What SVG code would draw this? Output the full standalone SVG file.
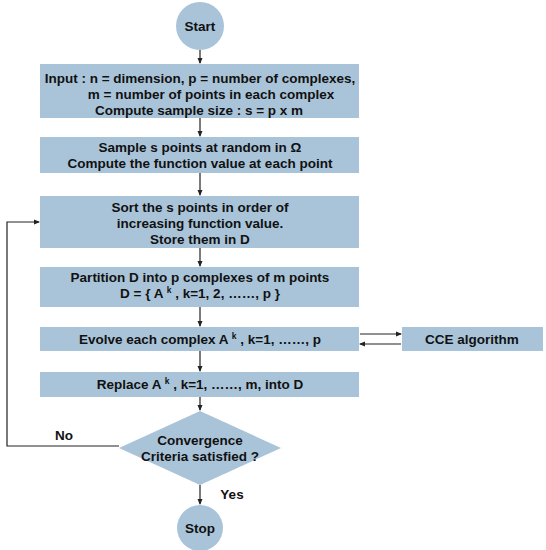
<svg xmlns="http://www.w3.org/2000/svg" width="546" height="550" viewBox="0 0 546 550">
<style>
.n{fill:#a9c4d9;stroke:none}
.t{font-family:"Liberation Sans",Arial,sans-serif;font-weight:bold;font-size:13.5px;fill:#111;text-anchor:middle}
.c{stroke:#222;stroke-width:1.2;fill:none}
.a{marker-end:url(#ah)}
.sup{font-size:8.5px}
</style>
<defs>
<marker id="ah" markerWidth="6" markerHeight="6" refX="5" refY="3" orient="auto" markerUnits="userSpaceOnUse">
<path d="M0,0.5 L6,3 L0,5.5 z" fill="#222"/>
</marker>
</defs>
<rect width="546" height="550" fill="#fff"/>
<g id="start"><circle class="n" cx="200" cy="26" r="24"/><text class="t" x="200" y="31">Start</text></g>
<g id="input"><rect class="n" x="40" y="64" width="319" height="54"/>
<text class="t" x="200" y="83">Input : n = dimension, p = number of complexes,</text>
<text class="t" x="211" y="99">m = number of points in each complex</text>
<text class="t" x="199" y="115">Compute sample size : s = p x m</text></g>
<g id="sample"><rect class="n" x="40" y="137" width="319" height="36"/>
<text class="t" x="200" y="152">Sample s points at random in Ω</text>
<text class="t" x="200" y="168">Compute the function value at each point</text></g>
<g id="sort"><rect class="n" x="40" y="196" width="319" height="52"/>
<text class="t" x="200" y="212">Sort the s points in order of</text>
<text class="t" x="200" y="228">increasing function value.</text>
<text class="t" x="200" y="244">Store them in D</text></g>
<g id="partition"><rect class="n" x="40" y="267" width="319" height="40"/>
<text class="t" x="200" y="282">Partition D into p complexes of m points</text>
<text class="t" x="200" y="298">D = { A <tspan class="sup" dy="-5">k</tspan><tspan dy="5"> , k=1, 2, ……, p }</tspan></text></g>
<g id="evolve"><rect class="n" x="40" y="327" width="319" height="24"/>
<text class="t" x="200" y="344">Evolve each complex A <tspan class="sup" dy="-5">k</tspan><tspan dy="5"> , k=1, ……, p</tspan></text></g>
<g id="cce"><rect class="n" x="402" y="327" width="141" height="24"/>
<text class="t" x="472" y="344">CCE algorithm</text></g>
<g id="replace"><rect class="n" x="40" y="372" width="319" height="25"/>
<text class="t" x="200" y="389">Replace A <tspan class="sup" dy="-5">k</tspan><tspan dy="5"> , k=1, ……, m, into D</tspan></text></g>
<g id="converge"><polygon class="n" points="200,411 281,448 200,485 119,448"/>
<text class="t" x="200" y="445">Convergence</text>
<text class="t" x="200" y="461">Criteria satisfied ?</text></g>
<g id="stop"><circle class="n" cx="200" cy="528" r="23"/><text class="t" x="200" y="533">Stop</text></g>
<g id="connectors">
<line class="c a" x1="200" y1="50" x2="200" y2="63"/>
<line class="c a" x1="200" y1="118" x2="200" y2="136"/>
<line class="c a" x1="200" y1="173" x2="200" y2="195"/>
<line class="c a" x1="200" y1="248" x2="200" y2="266"/>
<line class="c a" x1="200" y1="307" x2="200" y2="326"/>
<line class="c a" x1="200" y1="351" x2="200" y2="371"/>
<line class="c a" x1="200" y1="397" x2="200" y2="410"/>
<line class="c a" x1="200" y1="485" x2="200" y2="504"/>
<line class="c a" x1="360" y1="334" x2="401" y2="334"/>
<line class="c a" x1="401" y1="344" x2="360" y2="344"/>
<polyline class="c a" points="119,446 7,446 7,222 39,222"/>
<text class="t" x="64" y="440">No</text>
<text class="t" x="232" y="499">Yes</text>
</g>
</svg>
